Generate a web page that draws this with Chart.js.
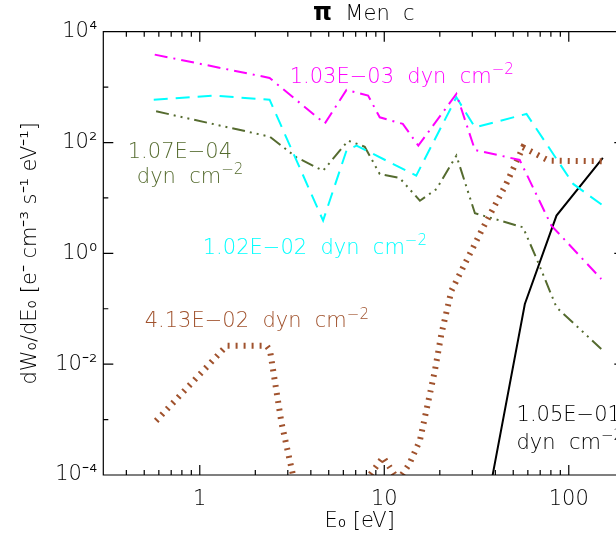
<!DOCTYPE html>
<html><head><meta charset="utf-8">
<script src="https://cdn.jsdelivr.net/npm/chart.js@4.4.1/dist/chart.umd.min.js"></script>
<style>html,body{margin:0;padding:0;background:#fff;overflow:hidden}#wrap{width:616px;height:547px}</style>
</head><body><div id="wrap"><canvas id="c" width="616" height="547"></canvas></div>
<script>
const FONT = "'DejaVu Sans', sans-serif";
const FW = '300';
const FSIZE = 21;
const titleParts = [['π', 'bold', 24], ['  Men  c', FW, 21]];
const xAxisTitle = 'E₀ [eV]';
const yAxisTitle = 'dW₀/dE₀ [e⁻ cm⁻³ s⁻¹ eV⁻¹]';
const xMin = 0.3, xMax = 180.3, xFrameEnd = 200;
const xMajorTicks = [1, 10, 100];
const xAllTicks = [0.3,0.4,0.5,0.6,0.7,0.8,0.9,1,2,3,4,5,6,7,8,9,10,20,30,40,50,60,70,80,90,100];
const yTickValues = [1e-4,1e-3,1e-2,1e-1,1,10,100,1e3,1e4];

// series 1.03E-03 dyn cm^-2 (magenta)
const magentaE = [0.57, 2.39, 4.76, 6.24, 8.17, 9.45, 12.6, 15.3, 24.6, 31, 54.2, 80.5, 150];
const magentaW = [3860, 1466, 220, 890, 703, 285, 217, 88, 753, 73.5, 48.5, 3.17, 0.345];
// series 1.02E-02 dyn cm^-2 (cyan)
const cyanE = [0.563, 1.18, 2.39, 4.66, 6.24, 7.07, 14.9, 24.6, 31, 59, 105.7, 153];
const cyanW = [594, 703, 594, 3.9, 71.5, 88, 25.3, 655, 188, 328, 17.9, 7.3];
// series 1.07E-04 dyn cm^-2 (olive)
const oliveE = [0.58, 2.39, 3.34, 4.66, 6.37, 7.84, 9.45, 12.1, 15.6, 19.2, 24.6, 31, 56.5, 68.2, 85.8, 150];
const oliveW = [366, 128, 54, 31, 108, 84, 27, 23, 8.9, 14.5, 58, 5.3, 2.95, 0.69, 0.106, 0.0188];
// series 4.13E-02 dyn cm^-2 (brown)
const brownE = [0.58, 1.4, 2.3, 2.4, 2.77, 3.2, 3.5, 4.76, 7.0, 8.17, 9.86, 11.9, 13.7, 15.6, 16.9, 18.8, 20.4, 23.1, 27.9, 34.4, 45.8, 56.5, 78, 153];
const brownW = [9.5e-4, 0.0216, 0.0216, 0.018, 8.9e-4, 1.0e-4, 1e-5, 1e-6, 1e-6, 9e-5, 2.1e-4, 8e-5, 1.6e-4, 4.2e-4, 1.45e-3, 7.6e-3, 0.035, 0.21, 0.74, 2.95, 17.9, 82, 47, 46];
// series 1.05E-01 dyn cm^-2 (black)
const blackE = [31, 57.8, 85.8, 153];
const blackW = [2e-6, 0.122, 4.8, 53];

const seriesLabels = ['1.03E−03 dyn cm⁻²', '1.02E−02 dyn cm⁻²', '1.07E−04 dyn cm⁻²', '4.13E−02 dyn cm⁻²', '1.05E−01 dyn cm⁻²'];

// in-plot labels, anchored in data coordinates (E, dW/dE) at left baseline
const annotations = [
  {color:'#FF00FF', x:3.07,  y:1205,    parts:[['1.03E−03  dyn  cm',0],['−2',1]]},
  {color:'#556B2F', x:0.407, y:53.4,    parts:[['1.07E−04',0]]},
  {color:'#556B2F', x:0.456, y:18.9,    parts:[['dyn  cm',0],['−2',1]]},
  {color:'#00FFFF', x:1.038, y:0.99,    parts:[['1.02E−02  dyn  cm',0],['−2',1]]},
  {color:'#A0522D', x:0.503, y:0.0461,  parts:[['4.13E−02  dyn  cm',0],['−2',1]]},
  {color:'#000000', x:52.1,  y:9.55e-4, parts:[['1.05E−01',0]]},
  {color:'#000000', x:52.1,  y:2.95e-4, parts:[['dyn  cm',0],['−2',1]]}
];

const SUP = {'-':'⁻','0':'⁰','1':'¹','2':'²','3':'³','4':'⁴','5':'⁵','6':'⁶','7':'⁷','8':'⁸','9':'⁹'};
function supStr(n){ return String(n).split('').map(c=>SUP[c]).join(''); }
function pts(E, W){ return E.map((e,i)=>({x:e, y:W[i]})); }

function drawRich(ctx, x, y, parts, size){
  let cx = x;
  for (const [t, sup] of parts){
    ctx.font = FW + ' ' + (sup ? Math.round(size*0.72) : size) + 'px ' + FONT;
    ctx.fillText(t, cx, sup ? y - size*0.42 : y);
    cx += ctx.measureText(t).width;
  }
}

const framePlugin = {
  id:'frame',
  afterDraw(chart){
    const {ctx, chartArea:a, scales:{x, y}} = chart;
    const xEnd = x.getPixelForValue(xFrameEnd);   // right axis lies just past the visible edge
    ctx.save();
    ctx.strokeStyle = '#000'; ctx.lineWidth = 1.2;
    ctx.beginPath();
    ctx.moveTo(xEnd, a.top); ctx.lineTo(a.left, a.top); ctx.lineTo(a.left, a.bottom); ctx.lineTo(xEnd, a.bottom);
    ctx.moveTo(xEnd, a.top); ctx.lineTo(xEnd, a.bottom);
    for (const v of xAllTicks){
      const px = x.getPixelForValue(v);
      const L = xMajorTicks.includes(v) ? 10 : 5;
      ctx.moveTo(px, a.bottom); ctx.lineTo(px, a.bottom-L);
      ctx.moveTo(px, a.top); ctx.lineTo(px, a.top+L);
    }
    for (const v of yTickValues){
      const py = y.getPixelForValue(v);
      const e = Math.round(Math.log10(v));
      const L = (e % 2 === 0) ? 10 : 5;
      ctx.moveTo(a.left, py); ctx.lineTo(a.left+L, py);
      ctx.moveTo(xEnd, py); ctx.lineTo(xEnd-L, py);
    }
    ctx.stroke();
    ctx.textAlign = 'left'; ctx.textBaseline = 'alphabetic';
    for (const an of annotations){
      ctx.fillStyle = an.color;
      drawRich(ctx, x.getPixelForValue(an.x), y.getPixelForValue(an.y), an.parts, FSIZE);
    }
    // title, centred over the full plot box
    ctx.fillStyle = '#000';
    let w = 0;
    for (const [t, wt, sz] of titleParts){ ctx.font = wt + ' ' + sz + 'px ' + FONT; w += ctx.measureText(t).width; }
    let cx = (a.left + xEnd)/2 - w/2;
    for (const [t, wt, sz] of titleParts){ ctx.font = wt + ' ' + sz + 'px ' + FONT; ctx.fillText(t, cx, 20); cx += ctx.measureText(t).width; }
    ctx.restore();
  }
};

const ds = (label, E, W, color, width, dash) => ({
  label, data: pts(E, W), borderColor: color, backgroundColor: color,
  borderWidth: width, borderDash: dash, pointRadius: 0, tension: 0, fill: false
});

new Chart(document.getElementById('c'), {
  type: 'line',
  data: { datasets: [
    ds(seriesLabels[0], magentaE, magentaW, '#FF00FF', 2, [13,6,2,6]),
    ds(seriesLabels[1], cyanE, cyanW, '#00FFFF', 2, [14,8]),
    ds(seriesLabels[2], oliveE, oliveW, '#556B2F', 2, [13,5,2,5,2,5,2,5]),
    ds(seriesLabels[3], brownE, brownW, '#A0522D', 6, [2,6]),
    ds(seriesLabels[4], blackE, blackW, '#000000', 2, [])
  ]},
  options: {
    responsive: false, animation: false, devicePixelRatio: 1,
    layout: { padding: {left:0, right:0, top:31.7, bottom:0} },
    plugins: { legend: {display:false}, tooltip: {enabled:false}, title: {display:false} },
    scales: {
      x: {
        type:'logarithmic', position:'bottom', min:xMin, max:xMax,
        afterBuildTicks(s){ s.ticks = xAllTicks.map(v=>({value:v})); },
        afterFit(s){ s.height = 72; },
        grid:{display:false, drawTicks:false},
        border:{display:false},
        ticks:{ autoSkip:false, maxRotation:0, padding:12, color:'#000',
                font:{family:FONT, size:FSIZE, weight:FW},
                callback:(v)=> xMajorTicks.includes(v) ? String(v) : '' },
        title:{ display:true, text:xAxisTitle, color:'#000', font:{family:FONT, size:FSIZE, weight:FW}, padding:{top:0,bottom:13} }
      },
      y: {
        type:'logarithmic', position:'left', min:1e-4, max:1e4,
        afterBuildTicks(s){ s.ticks = yTickValues.map(v=>({value:v})); },
        afterFit(s){ s.width = 103.3; },
        grid:{display:false, drawTicks:false},
        border:{display:false},
        ticks:{ autoSkip:false, padding:6, color:'#000',
                font:{family:FONT, size:FSIZE, weight:FW},
                callback:(v)=>{ const e = Math.round(Math.log10(v)); return (e%2===0) ? '10'+supStr(e) : ''; } },
        title:{ display:true, text:yAxisTitle, color:'#000', font:{family:FONT, size:FSIZE, weight:FW}, padding:{top:18,bottom:0} }
      }
    }
  },
  plugins:[framePlugin]
});
</script></body></html>
